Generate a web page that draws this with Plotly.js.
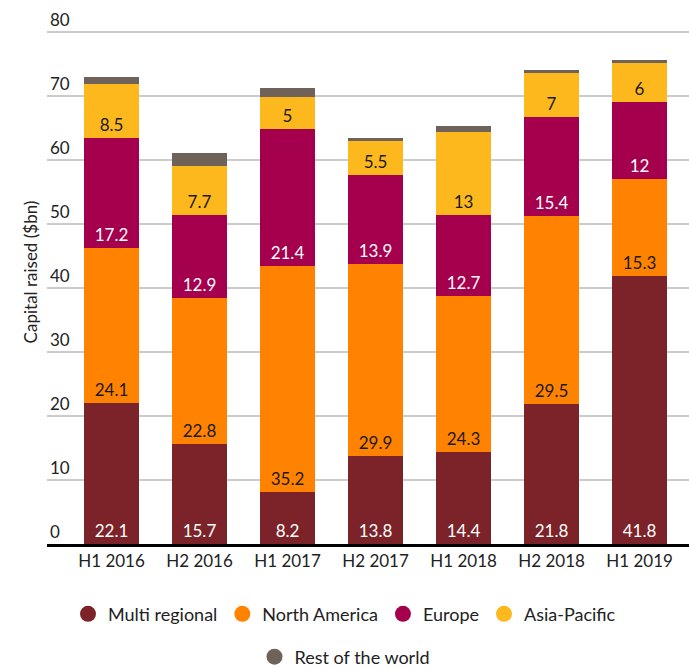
<!DOCTYPE html>
<html>
<head>
<meta charset="utf-8">
<script src="https://cdn.plot.ly/plotly-3.0.1.min.js"></script>
<style>
  body { margin: 0; background: #fff; }
  #chart { width: 689px; height: 670px; }
</style>
</head>
<body>
<div id="chart"></div>
<script>
// Half-year periods
var periods = ["H1 2016", "H2 2016", "H1 2017", "H2 2017", "H1 2018", "H2 2018", "H1 2019"];

// Capital raised ($bn) by region
var multi_regional = [22.1, 15.7, 8.2, 13.8, 14.4, 21.8, 41.8];
var north_america = [24.1, 22.8, 35.2, 29.9, 24.3, 29.5, 15.3];
var europe = [17.2, 12.9, 21.4, 13.9, 12.7, 15.4, 12];
var asia_pacific = [8.5, 7.7, 5, 5.5, 13, 7, 6];
var rest_of_world = [1.0, 2.0, 1.4, 0.3, 0.9, 0.3, 0.5];

var names = ["Multi regional", "North America", "Europe", "Asia-Pacific", "Rest of the world"];
var colors = ["#7B2328", "#FF8300", "#A5004D", "#FDB81E", "#6E6259"];
var label_colors = ["#ffffff", "#1a1a1a", "#ffffff", "#1a1a1a", "#ffffff"];
var series = [multi_regional, north_america, europe, asia_pacific, rest_of_world];

var FONT = "Lato, sans-serif";

var data = [];

// stacked bars (labels at the base of each segment)
for (var i = 0; i < series.length; i++) {
    var showText = i < 4;
    data.push({
        type: "bar",
        x: periods,
        y: series[i],
        name: names[i],
        marker: {color: colors[i]},
        text: showText ? series[i].map(function(v){ return v.toString(); }) : null,
        textposition: showText ? "inside" : "none",
        insidetextanchor: "start",
        constraintext: "none",
        textangle: 0,
        insidetextfont: {family: FONT, size: 17, color: label_colors[i]},
        hoverinfo: "name+y",
        showlegend: false
    });
}

// legend entries with round markers
for (var j = 0; j < names.length; j++) {
    data.push({
        type: "scatter",
        mode: "markers",
        x: [null],
        y: [null],
        name: names[j],
        marker: {color: colors[j], size: 22, symbol: "circle"},
        legend: j < 4 ? "legend" : "legend2",
        showlegend: true
    });
}

var layout = {
    width: 689,
    height: 670,
    barmode: "stack",
    bargap: 0.375,
    margin: {l: 47, r: 0, t: 0, b: 126},
    paper_bgcolor: "#ffffff",
    plot_bgcolor: "#ffffff",
    font: {family: FONT, size: 17, color: "#222222"},
    xaxis: {
        range: [-0.733, 6.562],
        showline: true,
        linecolor: "#000000",
        linewidth: 3,
        ticks: "",
        showgrid: false,
        tickfont: {family: FONT, size: 17, color: "#222222"},
        fixedrange: true
    },
    yaxis: {
        range: [0, 85],
        tickvals: [0, 10, 20, 30, 40, 50, 60, 70, 80],
        showgrid: true,
        gridcolor: "#cccccc",
        gridwidth: 2,
        zeroline: false,
        ticklabelposition: "inside top",
        tickfont: {family: FONT, size: 17, color: "#222222"},
        title: {text: "Capital raised ($bn)", font: {family: FONT, size: 17, color: "#222222"}, standoff: 8},
        fixedrange: true
    },
    legend: {
        orientation: "h",
        traceorder: "normal",
        x: 0.5,
        xanchor: "center",
        xref: "container",
        y: 0.111,
        yanchor: "top",
        yref: "container",
        font: {family: FONT, size: 18, color: "#222222"},
        itemsizing: "trace"
    },
    legend2: {
        orientation: "h",
        x: 0.5,
        xanchor: "center",
        xref: "container",
        y: 0.047,
        yanchor: "top",
        yref: "container",
        font: {family: FONT, size: 18, color: "#222222"},
        itemsizing: "trace"
    }
};

Plotly.newPlot("chart", data, layout, {displayModeBar: false});
</script>
</body>
</html>
